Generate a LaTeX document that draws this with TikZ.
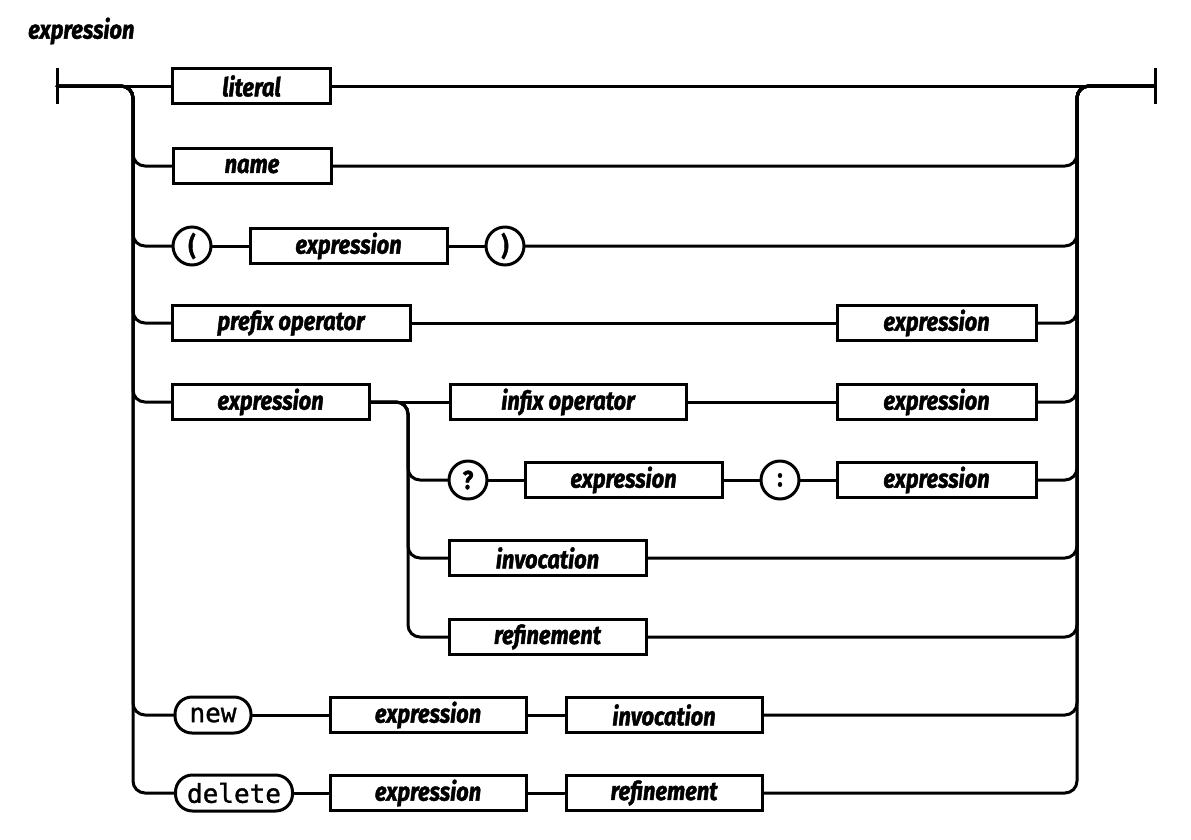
\documentclass[tikz,border=0pt]{standalone}
\usepackage{fontspec}
\newfontfamily\labfont[FakeStretch=0.84,FakeBold=1.5]{Fira Sans}
\newfontfamily\monofont[FakeBold=1.2]{DejaVu Sans Mono}
\begin{document}
\begin{tikzpicture}[x=1pt,y=-1pt,
  rail/.style={line width=3pt,rounded corners=12pt,line cap=round},
  lab/.style={font=\labfont\bfseries\itshape\fontsize{26}{28}\selectfont},
  nt/.style={draw,line width=3pt,lab,minimum height=35pt,inner sep=0pt},
  term/.style={draw,circle,line width=3pt,font=\labfont\bfseries\fontsize{26}{28}\selectfont,minimum size=38pt,inner sep=0pt},
  kw/.style={draw,line width=3pt,rounded corners=17pt,minimum height=36pt,inner sep=0pt,font=\monofont\fontsize{26}{28}\selectfont}]
\useasboundingbox (0,0) rectangle (1191,839);
\node[lab,anchor=west,inner sep=0pt] (title) at (28,31) {expression};
% rails
\coordinate (lb) at (57,86);
\coordinate (lbt) at (57,68);
\coordinate (lbb) at (57,104);
\coordinate (rb) at (1155,86);
\coordinate (rbt) at (1155,68);
\coordinate (rbb) at (1155,104);
\coordinate (L) at (133,86);
\coordinate (R) at (1077,86);
\coordinate (I) at (408,402);
% row 1
\node[nt,minimum width=158pt] (lit) at (251.5,86) {literal};
% row 2
\node[nt,minimum width=158pt] (nam) at (252,166) {name};
% row 3
\node[term] (lp) at (192,246) {(};
\node[nt,minimum width=197pt] (ex3) at (348.5,246) {expression};
\node[term] (rp) at (505,246) {)};
% row 4
\node[nt,minimum width=238pt] (pre) at (291,323) {prefix operator};
\node[nt,minimum width=199pt] (ex4) at (936.5,323) {expression};
% row 5
\node[nt,minimum width=197pt] (ex5) at (270.5,402) {expression};
\node[nt,minimum width=236pt] (inf) at (568,402) {infix operator};
\node[nt,minimum width=199pt] (ex5r) at (936.5,402) {expression};
% row 6
\node[term] (q) at (468,480) {?};
\node[nt,minimum width=197pt] (ex6) at (623.5,480) {expression};
\node[term] (col) at (780,480) {:};
\node[nt,minimum width=199pt] (ex6r) at (936.5,480) {expression};
% row 7
\node[nt,minimum width=197pt] (inv) at (547.5,558) {invocation};
% row 8
\node[nt,minimum width=197pt] (ref) at (547.5,637) {refinement};
% row 9
\node[kw,minimum width=76pt] (new) at (213,715) {new};
\node[nt,minimum width=196pt] (ex9) at (428,715) {expression};
\node[nt,minimum width=196pt] (inv9) at (664,715) {invocation};
% row 10
\node[kw,minimum width=117pt] (del) at (234,793) {delete};
\node[nt,minimum width=196pt] (ex10) at (428,793) {expression};
\node[nt,minimum width=196pt] (ref10) at (664,793) {refinement};
% end bars
\draw[line width=3pt] (lbt) -- (lbb);
\draw[line width=3pt] (rbt) -- (rbb);
% top line
\draw[rail] (lb) -- (lit.west);
\draw[rail] (lit.east) -- (rb);
% left branches
\foreach \n in {nam,lp,pre,ex5,new,del}{
  \draw[rail] (lb) -- (L) -- (L |- \n.west) -- (\n.west);
}
% right branches
\foreach \n in {nam,rp,ex4,ex5r,ex6r,inv,ref,inv9,ref10}{
  \draw[rail] (\n.east) -- (R |- \n.east) -- (R) -- (rb);
}
% inner branches
\draw[rail] (ex5.east) -- (inf.west);
\foreach \n in {q,inv,ref}{
  \draw[rail] (ex5.east) -- (I) -- (I |- \n.west) -- (\n.west);
}
% sequences
\draw[rail] (lp.east) -- (ex3.west);
\draw[rail] (ex3.east) -- (rp.west);
\draw[rail] (pre.east) -- (ex4.west);
\draw[rail] (inf.east) -- (ex5r.west);
\draw[rail] (q.east) -- (ex6.west);
\draw[rail] (ex6.east) -- (col.west);
\draw[rail] (col.east) -- (ex6r.west);
\draw[rail] (new.east) -- (ex9.west);
\draw[rail] (ex9.east) -- (inv9.west);
\draw[rail] (del.east) -- (ex10.west);
\draw[rail] (ex10.east) -- (ref10.west);
\end{tikzpicture}
\end{document}
